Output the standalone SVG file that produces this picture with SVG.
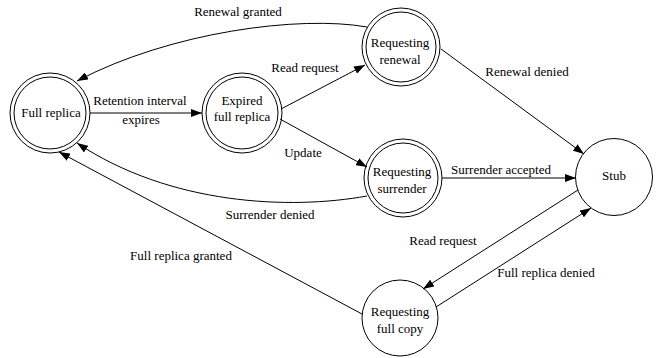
<svg xmlns="http://www.w3.org/2000/svg" width="656" height="358" viewBox="0 0 656 358" font-family="'Liberation Serif', 'DejaVu Serif', serif" font-size="13">
<defs>
<marker id="arr" markerUnits="userSpaceOnUse" markerWidth="12" markerHeight="8" refX="11" refY="4" orient="auto">
<path d="M0,0 L11,4 L0,8 Z" fill="#000"/>
</marker>
<style>
.n{fill:none;stroke:#000;stroke-width:1}
.e{fill:none;stroke:#000;stroke-width:1;marker-end:url(#arr)}
text{font-family:'Liberation Serif','DejaVu Serif',serif;font-size:13px;fill:#000;text-anchor:middle}
</style>
</defs>
<rect width="656" height="358" fill="#fff"/>
<g id="connectors">
<path class="e" d="M90,113 L202,113"/>
<path class="e" d="M281,109 L365,65"/>
<path class="e" d="M280,119 L367,167"/>
<path class="e" d="M367,27 C300,15 170,32 77,81"/>
<path class="e" d="M441,49 L584,154"/>
<path class="e" d="M442,178 L576,178"/>
<path class="e" d="M367,196 C290,210 170,205 77,143"/>
<path class="e" d="M578,190 L423,289"/>
<path class="e" d="M436,307 L591,208"/>
<path class="e" d="M362,314 L59,152"/>
<text x="238" y="16">Renewal granted</text>
<text x="140" y="105">Retention interval</text>
<text x="141" y="124">expires</text>
<text x="305" y="72">Read request</text>
<text x="303" y="157">Update</text>
<text x="527" y="76">Renewal denied</text>
<text x="501" y="174">Surrender accepted</text>
<text x="270" y="219">Surrender denied</text>
<text x="181" y="260">Full replica granted</text>
<text x="443" y="245">Read request</text>
<text x="546" y="277">Full replica denied</text>
</g>
<g id="full-replica">
<circle class="n" cx="50" cy="113" r="40"/>
<circle class="n" cx="50" cy="113" r="36"/>
<text x="51" y="117">Full replica</text>
</g>
<g id="expired-full-replica">
<circle class="n" cx="242" cy="113" r="40"/>
<circle class="n" cx="242" cy="113" r="36"/>
<text x="242" y="105">Expired</text>
<text x="242" y="121">full replica</text>
</g>
<g id="requesting-renewal">
<circle class="n" cx="401" cy="47" r="39"/>
<circle class="n" cx="401" cy="47" r="35"/>
<text x="400" y="47">Requesting</text>
<text x="400" y="64">renewal</text>
</g>
<g id="requesting-surrender">
<circle class="n" cx="403" cy="178" r="39"/>
<circle class="n" cx="403" cy="178" r="35"/>
<text x="402" y="176">Requesting</text>
<text x="402" y="193">surrender</text>
</g>
<g id="stub">
<circle class="n" cx="614" cy="177" r="38.5"/>
<text x="614" y="180">Stub</text>
</g>
<g id="requesting-full-copy">
<circle class="n" cx="400" cy="318" r="38"/>
<text x="400" y="316">Requesting</text>
<text x="400" y="333">full copy</text>
</g>
</svg>
